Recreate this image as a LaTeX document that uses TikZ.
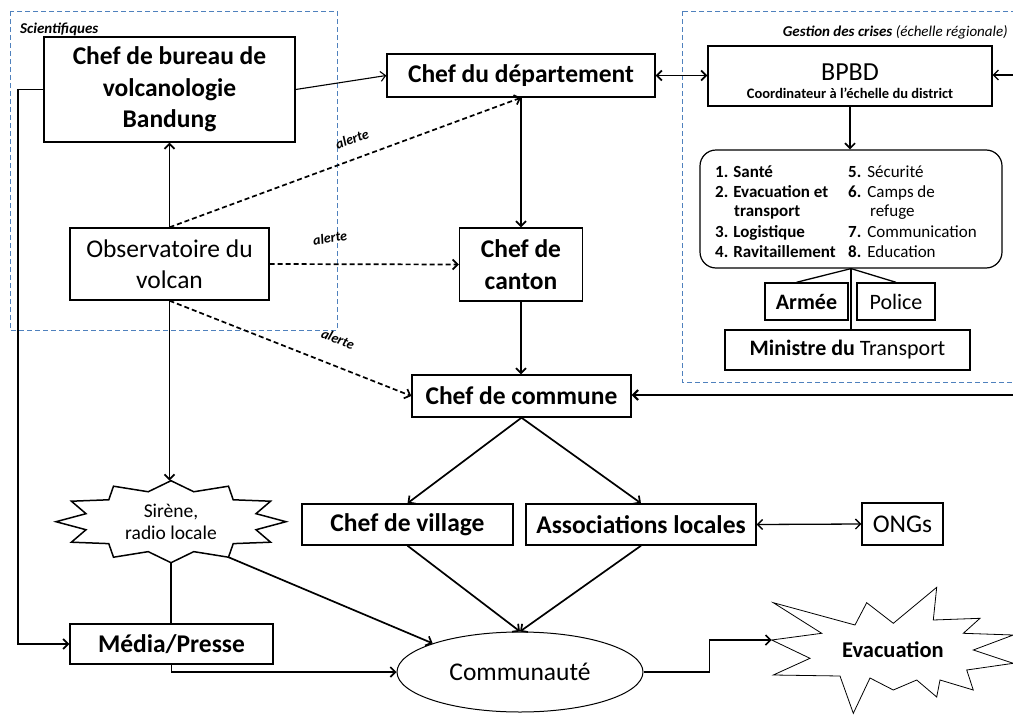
\documentclass[tikz,border=0pt]{standalone}
\usepackage{fontspec}
\setmainfont{Carlito}
\usetikzlibrary{arrows.meta,shapes.geometric,calc}
\definecolor{dashblue}{RGB}{79,129,189}
\newcommand\szBig{\fontsize{25.5}{31.5}\selectfont}
\newcommand\szMid{\fontsize{22}{26}\selectfont}
\newcommand\szSir{\fontsize{19.5}{22}\selectfont}
\newcommand\szList{\fontsize{17}{20}\selectfont}
\newcommand\szSmall{\fontsize{14.5}{17}\selectfont}
\begin{document}
\begin{tikzpicture}[x=1pt,y=-1pt,
  box/.style={draw, line width=1.4pt, inner sep=0pt, align=center, fill=white},
  con/.style={line width=1.7pt},
  arr/.style={con, -{Straight Barb[length=5pt,width=10pt]}},
  darr/.style={con, {Straight Barb[length=5pt,width=10pt]}-{Straight Barb[length=5pt,width=10pt]}},
  alertarr/.style={arr, dash pattern=on 5pt off 3pt},
  zone/.style={draw=dashblue, line width=1pt, dash pattern=on 5pt off 3pt},
  alertlbl/.style={font=\fontsize{14}{16}\selectfont\bfseries\itshape, inner sep=0pt},
  listtxt/.style={anchor=base west, inner sep=0pt, font=\szList},
]
\clip (0,0) rectangle (1013,715);
\fill[white] (0,0) rectangle (1013,715);

% zones
\draw[zone] (10,11) rectangle (337,330);
\draw[zone] (682,11) rectangle (1030,382);
\node[anchor=west, inner sep=0pt, font=\fontsize{15}{17}\selectfont\bfseries\itshape] (sci) at (20,29) {Scientifiques};
\node[anchor=east, inner sep=0pt, font=\fontsize{15}{17}\selectfont] (ges) at (1008,32) {\bfseries\itshape Gestion des crises \mdseries(échelle régionale)};

% main nodes
\node[box, font=\szBig\bfseries, minimum width=251, minimum height=105] (bureau) at (169.5,89.5) {Chef de bureau de\\volcanologie\\Bandung};
\node[box, font=\szBig, minimum width=199, minimum height=72] (obs) at (169.5,264) {Observatoire du\\volcan};
\node[box, font=\szBig\bfseries, minimum width=268, minimum height=43] (dept) at (521,75.5) {Chef du département};
\node[box, font=\szBig\bfseries, minimum width=123, minimum height=73] (canton) at (521,264.5) {Chef de\\canton};
\node[box, font=\szBig\bfseries, minimum width=219, minimum height=42] (commune) at (521.5,396) {Chef de commune};
\node[box, font=\szBig\bfseries, minimum width=211, minimum height=41] (village) at (407.5,524.5) {Chef de village};
\node[box, font=\szBig\bfseries, minimum width=230, minimum height=41] (assoc) at (641,524.5) {Associations locales};
\node[box, font=\szBig, minimum width=81, minimum height=42] (ongs) at (902.5,524) {ONGs};
\node[box, font=\szBig\bfseries, minimum width=203, minimum height=40] (media) at (171.5,644) {Média/Presse};
\node[draw, ellipse, line width=1pt, inner sep=0pt, font=\szBig, minimum width=246, minimum height=80] (com) at (520,672) {Communauté};

% crisis management
\node[box, minimum width=284, minimum height=60] (bpbd) at (850,76) {};
\node[anchor=base, inner sep=0pt, font=\fontsize{26}{28}\selectfont] (bpbdt) at (850,80) {BPBD};
\node[anchor=base, inner sep=0pt, font=\szSmall\bfseries] (bpbds) at (850,98) {Coordinateur à l'échelle du district};
\node[draw, rounded corners=16pt, line width=1.2pt, inner sep=0pt, minimum width=302, minimum height=118] (list) at (851,209) {};
\node[listtxt, font=\szList\bfseries] (l1) at (715,177) {1.\hspace{5pt}Santé};
\node[listtxt, font=\szList\bfseries] (l2) at (715,197) {2.\hspace{5pt}Evacuation et};
\node[listtxt, font=\szList\bfseries] (l2b) at (734,216.5) {transport};
\node[listtxt, font=\szList\bfseries] (l3) at (715,237) {3.\hspace{5pt}Logistique};
\node[listtxt, font=\szList\bfseries] (l4) at (715,257) {4.\hspace{5pt}Ravitaillement};
\node[listtxt] (l5) at (848,177) {\textbf{5.}\hspace{6pt}Sécurité};
\node[listtxt] (l6) at (848,197) {\textbf{6.}\hspace{6pt}Camps de};
\node[listtxt] (l6b) at (870,216.5) {refuge};
\node[listtxt] (l7) at (848,237) {\textbf{7.}\hspace{6pt}Communication};
\node[listtxt] (l8) at (848,257) {\textbf{8.}\hspace{6pt}Education};
\node[box, font=\szMid\bfseries, minimum width=83, minimum height=37] (armee) at (806.5,301.5) {Armée};
\node[box, font=\szMid, minimum width=78, minimum height=37] (police) at (896,301.5) {Police};
\node[box, font=\szMid, minimum width=245, minimum height=40] (ministre) at (847.5,350) {{\bfseries Ministre du} Transport};

% siren star
\coordinate (sirc) at (171,521.7);
\draw[line width=1.5pt, fill=white] ([shift={(0:115 and 41)}]sirc)
  \foreach \a in {15,45,...,345}{ -- ([shift={(\a:88 and 31)}]sirc) -- ([shift={(\a+15:115 and 41)}]sirc)} -- cycle;
\node[inner sep=0pt, minimum width=230, minimum height=82, align=center, font=\szSir] (sir) at (sirc) {Sirène,\\radio locale};
\coordinate (sirbr) at ([shift={(60:115 and 41)}]sirc);

% evacuation star
\draw[line width=0.8pt, fill=white] (771.7,640) -- (821.7,633.3) -- (773.3,602.7) -- (855,625) -- (866.7,602.7)
  -- (893.3,623.3) -- (936.7,587.3) -- (933.3,620) -- (980,618.3) -- (963.3,633.3) -- (1013.3,635)
  -- (973.3,650) -- (1013.3,663.3) -- (966.7,670) -- (973.3,690) -- (940,680) -- (936.7,697)
  -- (916.7,680) -- (893.3,690) -- (870,678) -- (853.3,713.3) -- (840,676) -- (773.3,675)
  -- (810,658.3) -- cycle;
\node[inner sep=0pt, font=\fontsize{22.5}{24}\selectfont\bfseries] (evac) at (893,650) {Evacuation};
\coordinate (evtip) at (771.7,640);

% right-edge entries
\coordinate (re1) at (1013,395);
\coordinate (re2) at (1013,75);

% connectors
\draw[arr, line width=1.1pt] (bureau.east) -- (dept.west);
\draw[arr] (obs.north) -- (bureau.south);
\draw[arr] (dept.south) -- (dept.south |- canton.north);
\draw[arr] (canton.south) -- (canton.south |- commune.north);
\draw[arr] (commune.south) -- (village.north);
\draw[arr] (commune.south) -- (assoc.north);
\draw[arr] (village.south) -- (com.north);
\draw[arr] (assoc.south) -- (com.north);
\draw[darr, line width=1.3pt] (assoc.east) -- (ongs.west);
\draw[arr, line width=2pt] (re1) -- (re1 -| commune.east);
\draw[arr, line width=1.1pt] (re2) -- (re2 -| bpbd.east);
\draw[darr] (dept.east) -- (dept.east -| bpbd.west);
\draw[arr] (bpbd.south) -- (bpbd.south |- list.north);
\draw[con, line width=1.3pt] (list.south) -- ($(armee.north)+(-10,0)$);
\draw[con, line width=1.3pt] (list.south) -- (police.north);
\draw[con, line width=1.3pt] (list.south) -- (list.south |- ministre.north);
\draw[arr] (obs.south) -- (obs.south |- sir.north);
\draw[con] (sir.south) -- (sir.south |- media.north);
\draw[arr] (sirbr) -- (com.north west);
\draw[arr] (bureau.west) -- ++(-25,0) |- (media.west);
\draw[arr] (media.south) |- (com.west);
\draw[arr] (com.east) -- ++(66,0) |- (evtip);

% alerts
\draw[alertarr] (obs.north) -- (dept.south);
\draw[alertarr] (obs.east) -- (canton.west);
\draw[alertarr] (obs.south) -- (commune.west);
\node[alertlbl, rotate=20] (al1) at (352,139) {alerte};
\node[alertlbl, rotate=10] (al2) at (330,238) {alerte};
\node[alertlbl, rotate=-22] (al3) at (338,339) {alerte};
\end{tikzpicture}
\end{document}
